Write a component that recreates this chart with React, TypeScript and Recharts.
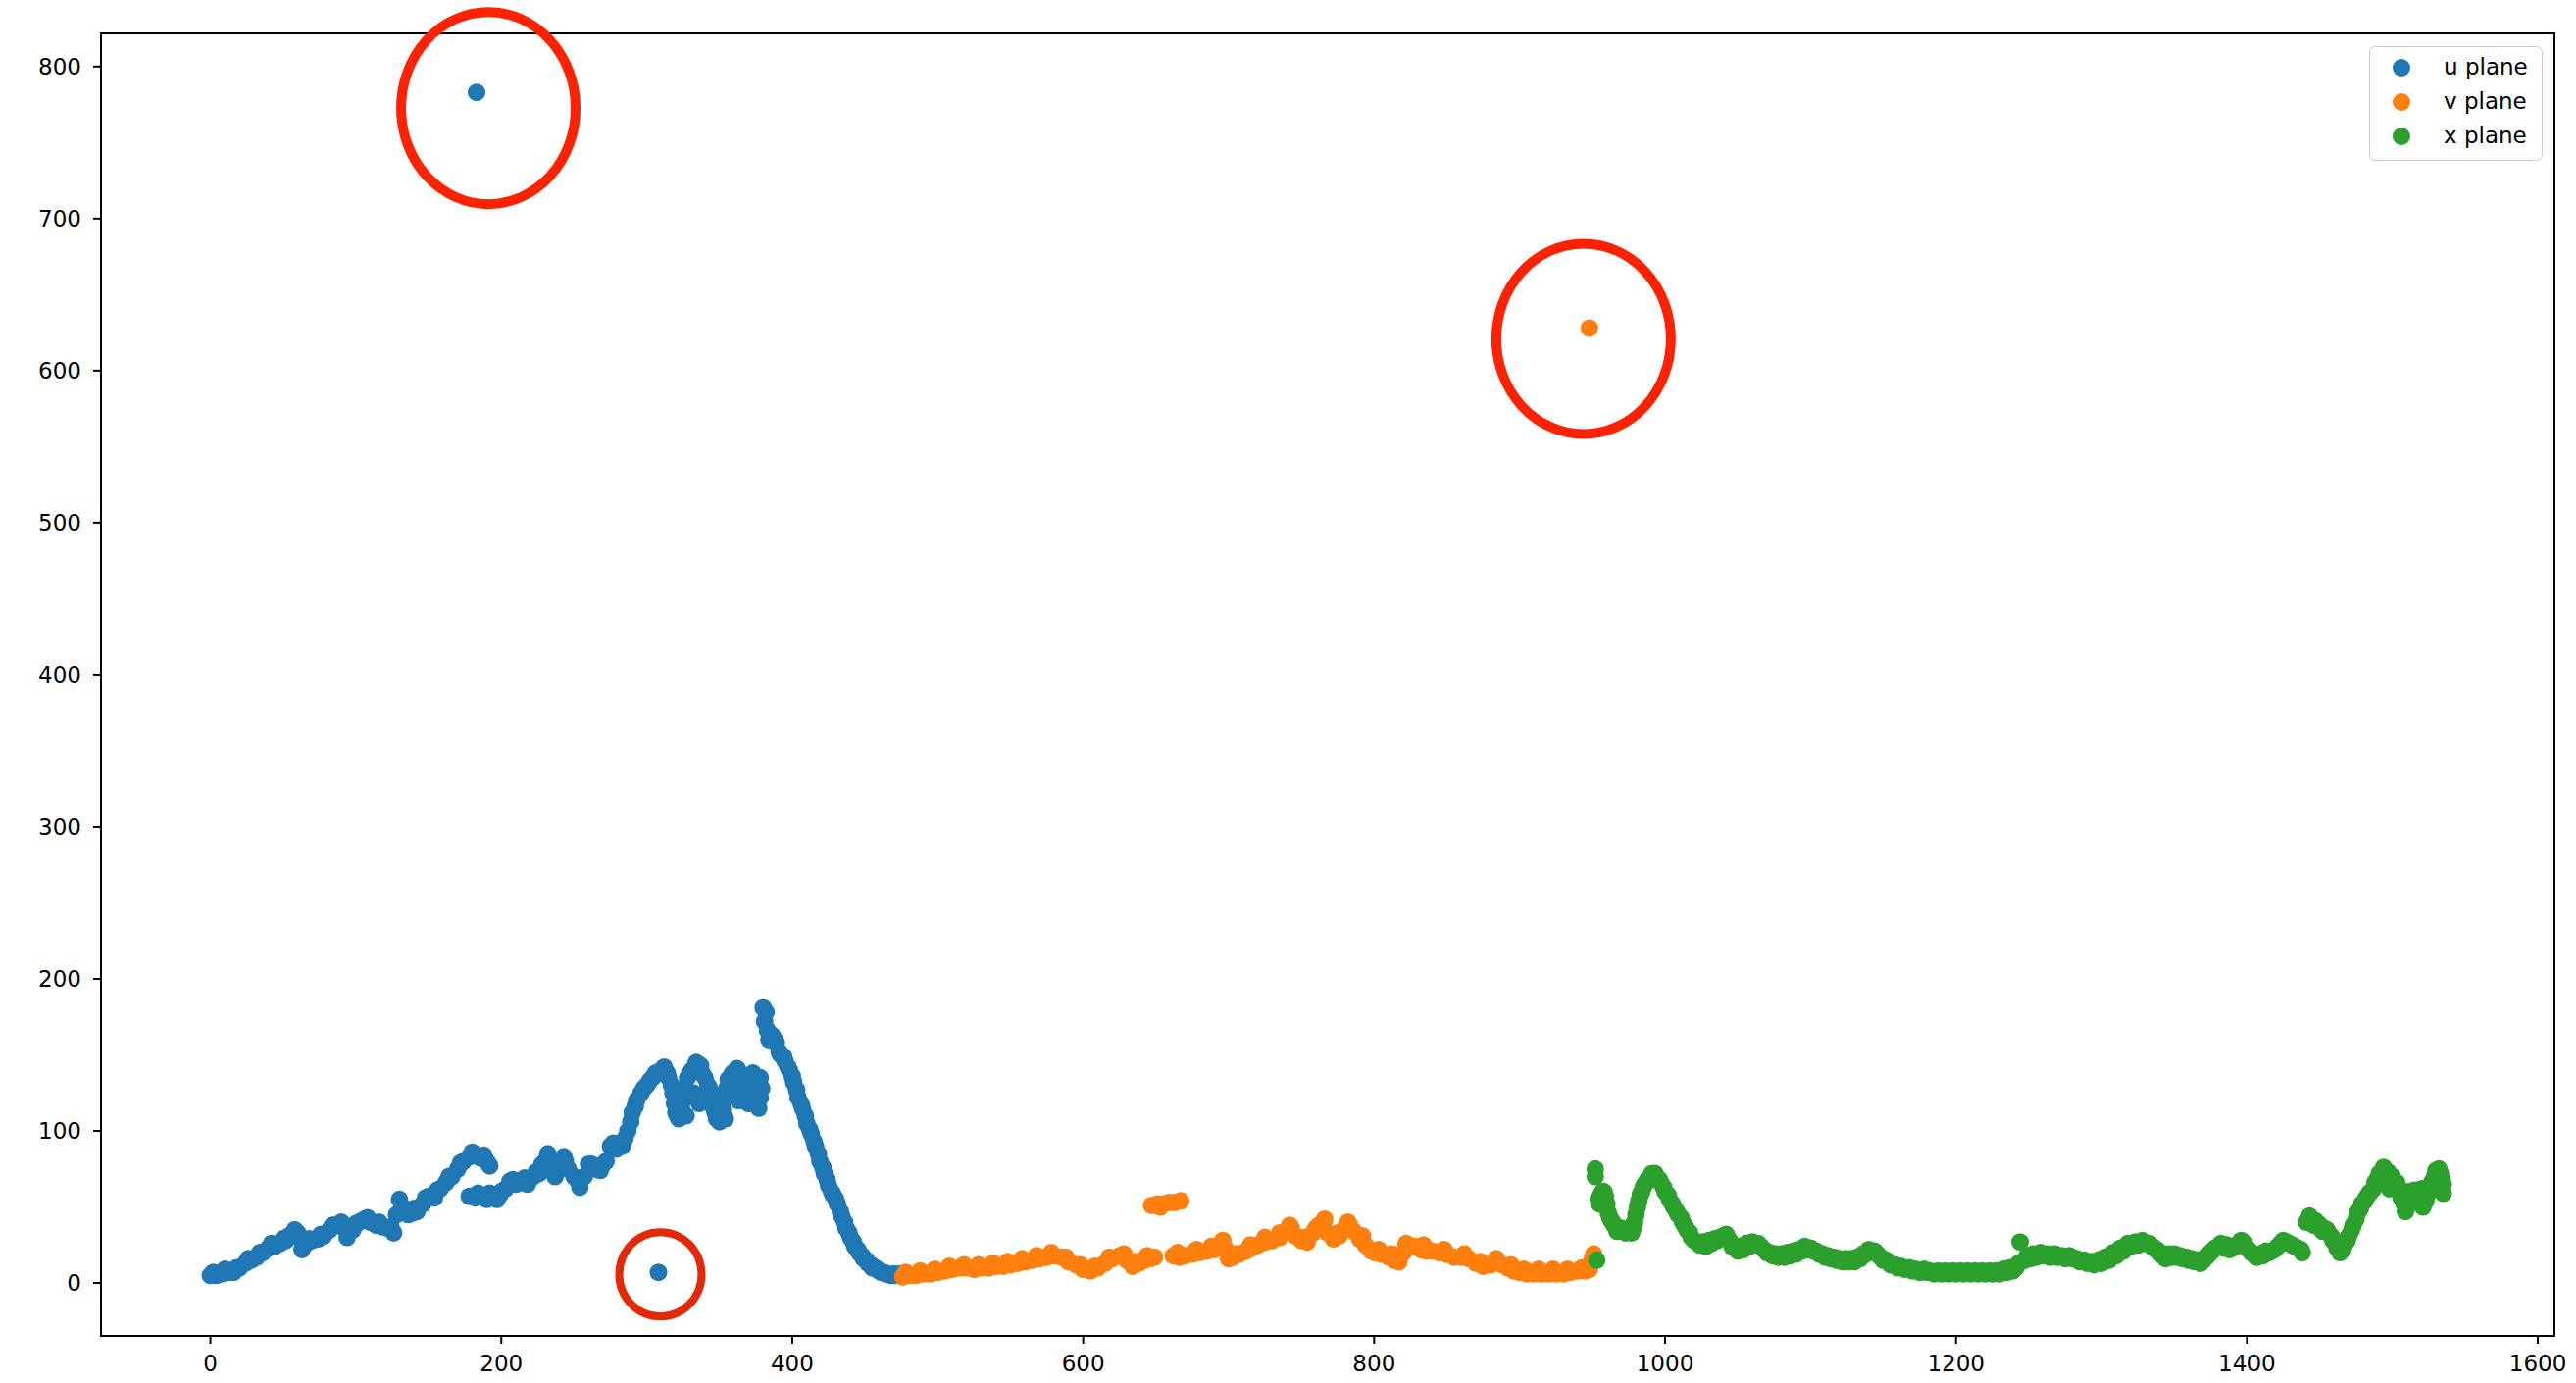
import React from 'react';
import { ScatterChart, Scatter, XAxis, YAxis, ReferenceArea, ReferenceDot, Legend } from 'recharts';

// ---- data (x, y) ----
const uPlane: number[][] = [
  [0, 5], [4, 5], [8, 6], [12, 7], [16, 7], [20, 10], [24, 13], [28, 15], [32, 17], [36, 20],
  [40, 23], [44, 24], [48, 26], [52, 28], [56, 31], [58, 35], [60, 33], [63, 22], [66, 26], [70, 28],
  [74, 29], [78, 31], [82, 35], [86, 38], [90, 40], [94, 30], [98, 35], [102, 40], [106, 42], [110, 40],
  [114, 38], [118, 37], [122, 36], [126, 33], [128, 45], [130, 55], [133, 48], [136, 45], [139, 46], [142, 47],
  [146, 52], [150, 57], [154, 56], [158, 62], [162, 66], [166, 70], [170, 75], [174, 80], [178, 83], [182, 84],
  [186, 82], [190, 80], [192, 77],
  [178, 57], [182, 56], [186, 57], [190, 55], [194, 58], [197, 55], [200, 60], [203, 62], [206, 67], [210, 65],
  [214, 66], [218, 65], [222, 70], [226, 72], [230, 80], [232, 85], [234, 78], [237, 70], [240, 80], [243, 83],
  [246, 75], [250, 70], [254, 63], [257, 70], [260, 78], [264, 75], [268, 74], [272, 80], [275, 90], [279, 88],
  [283, 90], [287, 100], [290, 112], [293, 120], [296, 125], [300, 130], [304, 135], [308, 138], [312, 142], [315, 135],
  [318, 125], [320, 112], [322, 108], [325, 120], [328, 135], [331, 140], [334, 145], [337, 143], [340, 135], [343, 128],
  [346, 115], [348, 108], [350, 106], [353, 120], [356, 134], [359, 138], [362, 141], [365, 132], [368, 123], [371, 135],
  [373, 138], [375, 125], [377, 115], [379, 128], [380, 181], [381, 172], [383, 166], [386, 163], [389, 158], [392, 150],
  [395, 146], [398, 140], [401, 132], [404, 122], [407, 115], [410, 105], [413, 98], [416, 90], [419, 80], [422, 72],
  [425, 64], [428, 58], [431, 52], [434, 44], [437, 36], [440, 30], [443, 24], [446, 20], [449, 16], [452, 13],
  [455, 10], [458, 9], [461, 7], [464, 6], [468, 5], [472, 5], [476, 5],
];
const uSpread: number[][] = [
  [2, 7], [10, 9], [18, 10], [26, 16], [34, 20], [42, 26], [50, 29], [54, 31], [61, 30], [68, 29],
  [76, 32], [84, 38], [92, 36], [100, 39], [108, 43], [116, 40], [124, 37], [132, 50], [140, 49], [148, 56],
  [156, 61], [164, 70], [172, 79], [180, 86], [188, 84], [184, 59], [192, 59], [199, 58], [208, 68], [216, 69],
  [224, 73], [228, 78], [236, 75], [244, 80], [252, 68], [262, 78], [270, 78], [277, 92], [285, 95], [289, 106],
  [292, 116], [298, 128], [302, 133], [306, 138], [310, 140], [314, 138], [317, 130], [319, 118], [321, 110], [324, 114],
  [326, 128], [330, 138], [333, 142], [336, 140], [338, 138], [342, 130], [345, 120], [347, 112], [349, 110], [352, 114],
  [355, 128], [358, 136], [361, 134], [364, 138], [367, 128], [370, 128], [372, 130], [374, 132], [376, 120], [378, 122],
  [323, 122], [327, 110], [332, 125], [336, 118], [341, 120], [345, 125], [350, 120], [354, 108], [358, 125], [363, 120],
  [367, 135], [370, 118], [374, 124], [378, 135], [382, 178], [384, 160], [388, 160], [391, 152], [394, 149], [397, 142],
  [400, 136], [403, 127], [406, 118], [409, 110], [412, 101], [415, 93], [418, 85], [421, 76], [424, 68], [427, 60],
  [430, 55], [433, 47], [436, 40], [439, 33], [442, 27], [445, 22], [448, 18], [451, 15], [454, 12], [457, 10],
  [460, 8], [463, 7], [466, 6], [470, 6], [474, 6],
];
const uOutliers: number[][] = [[183, 783], [308, 7]];

const vPlane: number[][] = [
  [476, 4], [480, 5], [485, 5], [490, 6], [495, 6], [500, 7], [505, 8], [510, 9], [515, 10], [520, 10],
  [525, 9], [530, 10], [535, 10], [540, 11], [545, 11], [550, 12], [555, 13], [560, 14], [565, 15], [570, 16],
  [575, 17], [580, 18], [585, 17], [590, 14], [595, 12], [600, 9], [605, 8], [610, 10], [615, 13], [620, 16],
  [625, 18], [630, 15], [634, 11], [638, 13], [642, 15], [646, 16], [649, 17],
  [647, 51], [651, 52], [655, 52], [659, 53], [663, 53], [667, 54],
  [662, 18], [666, 17], [670, 18], [675, 19], [680, 20], [685, 21], [690, 22], [695, 26], [698, 22], [700, 16],
  [703, 17], [707, 19], [712, 21], [716, 23], [720, 25], [725, 27], [730, 28], [735, 30], [740, 34], [743, 36],
  [746, 31], [750, 28], [754, 27], [758, 33], [762, 38], [765, 40], [768, 33], [772, 29], [776, 31], [780, 36],
  [783, 38], [786, 34], [790, 29], [794, 25], [798, 21], [801, 20], [805, 19], [810, 17], [814, 15], [817, 14],
  [820, 20], [824, 25], [828, 24], [832, 22], [836, 21], [840, 21], [845, 20], [850, 19], [855, 17], [860, 17],
  [865, 16], [870, 13], [875, 11], [880, 12], [885, 14], [888, 12], [892, 10], [896, 8], [900, 7], [905, 6],
  [910, 6], [915, 6], [920, 6], [925, 6], [930, 6], [935, 7], [940, 8], [945, 8], [948, 9], [951, 19],
];
const vSpread: number[][] = [
  [478, 7], [488, 8], [498, 9], [508, 11], [518, 12], [528, 12], [538, 13], [548, 14], [558, 16], [568, 18],
  [578, 20], [588, 17], [598, 12], [608, 11], [618, 17], [628, 19], [636, 14], [644, 18], [653, 50], [665, 20],
  [678, 22], [688, 24], [696, 28], [705, 19], [715, 25], [725, 30], [735, 33], [742, 38], [752, 30], [760, 36],
  [766, 42], [775, 33], [782, 40], [792, 31], [803, 22], [812, 19], [822, 26], [834, 25], [848, 22], [862, 19],
  [873, 14], [884, 16], [894, 12], [903, 9], [913, 9], [923, 9], [933, 9], [943, 10], [950, 16],
];
const vOutliers: number[][] = [[948, 628]];

const xPlane: number[][] = [
  [952, 75], [952, 70], [953, 15], [954, 55], [956, 58], [958, 60], [960, 52], [962, 43], [964, 40], [966, 37],
  [968, 35], [971, 34], [974, 35], [977, 33], [979, 40], [981, 50], [983, 58], [985, 63], [987, 66], [990, 70],
  [993, 72], [996, 68], [999, 63], [1002, 58], [1005, 52], [1008, 47], [1011, 43], [1014, 37], [1017, 33], [1020, 28],
  [1024, 25], [1028, 24], [1032, 26], [1036, 28], [1040, 31], [1043, 30], [1046, 24], [1050, 21], [1054, 22], [1058, 24],
  [1062, 26], [1066, 24], [1070, 20], [1074, 18], [1078, 17], [1082, 17], [1086, 18], [1090, 19], [1094, 21], [1098, 22],
  [1102, 21], [1106, 19], [1110, 17], [1114, 16], [1118, 15], [1122, 14], [1126, 14], [1130, 14], [1134, 16], [1138, 19],
  [1142, 21], [1146, 19], [1150, 15], [1155, 12], [1160, 10], [1165, 9], [1170, 8], [1175, 7], [1180, 7], [1185, 6],
  [1190, 6], [1195, 6], [1200, 6], [1205, 6], [1210, 6], [1215, 6], [1220, 6], [1225, 6], [1230, 6], [1235, 7],
  [1239, 8], [1243, 13], [1244, 27], [1247, 15], [1251, 16], [1255, 17], [1260, 18], [1265, 17], [1270, 17], [1275, 16],
  [1280, 16], [1285, 14], [1290, 13], [1295, 12], [1300, 13], [1305, 15], [1310, 18], [1315, 21], [1320, 24], [1325, 25],
  [1330, 26], [1335, 24], [1340, 20], [1344, 16], [1348, 17], [1352, 17], [1356, 16], [1360, 15], [1364, 14], [1368, 13],
  [1372, 17], [1376, 21], [1380, 24], [1384, 23], [1388, 22], [1392, 24], [1396, 28], [1399, 24], [1403, 20], [1407, 17],
  [1411, 18], [1415, 20], [1419, 22], [1423, 26], [1427, 27], [1431, 25], [1435, 23], [1438, 20],
  [1441, 40], [1444, 42], [1447, 41], [1450, 38], [1453, 36], [1456, 33], [1459, 28], [1462, 23], [1464, 20], [1467, 25],
  [1470, 31], [1473, 38], [1476, 46], [1479, 52], [1482, 56], [1485, 60], [1488, 66], [1491, 72], [1494, 76], [1497, 73],
  [1498, 62], [1500, 70], [1503, 66], [1506, 56], [1509, 47], [1510, 60], [1512, 52], [1515, 61], [1518, 56], [1520, 62],
  [1521, 50], [1524, 58], [1527, 66], [1530, 74], [1533, 72], [1535, 65], [1535, 59],
];
const xSpread: number[][] = [
  [955, 52], [957, 60], [959, 57], [961, 46], [963, 41], [965, 38], [967, 34], [970, 36], [973, 33], [976, 36],
  [978, 36], [980, 45], [982, 54], [984, 60], [986, 65], [988, 68], [991, 72], [994, 70], [997, 66], [1000, 60],
  [1003, 55], [1006, 50], [1009, 45], [1012, 40], [1015, 35], [1018, 30], [1022, 27], [1026, 27], [1030, 28], [1034, 29],
  [1038, 30], [1042, 32], [1045, 27], [1048, 23], [1052, 24], [1056, 26], [1060, 27], [1064, 26], [1068, 22], [1072, 20],
  [1076, 19], [1080, 19], [1084, 20], [1088, 21], [1092, 22], [1096, 24], [1100, 23], [1104, 21], [1108, 19], [1112, 18],
  [1116, 17], [1120, 16], [1124, 16], [1128, 16], [1132, 17], [1136, 19], [1140, 22], [1144, 21], [1148, 17], [1152, 15],
  [1158, 12], [1162, 11], [1168, 10], [1172, 9], [1178, 9], [1182, 8], [1188, 8], [1193, 8], [1198, 8], [1203, 8],
  [1208, 8], [1213, 8], [1218, 8], [1223, 8], [1228, 8], [1233, 9], [1237, 10], [1241, 10], [1249, 18], [1253, 19],
  [1258, 20], [1263, 19], [1268, 19], [1273, 18], [1278, 18], [1283, 16], [1288, 15], [1293, 14], [1298, 15], [1303, 17],
  [1308, 20], [1313, 23], [1318, 26], [1323, 27], [1328, 28], [1333, 26], [1338, 22], [1342, 18], [1346, 19], [1350, 19],
  [1354, 18], [1358, 17], [1362, 16], [1366, 15], [1370, 15], [1374, 19], [1378, 23], [1382, 26], [1386, 25], [1390, 23],
  [1394, 26], [1398, 27], [1401, 22], [1405, 19], [1409, 19], [1413, 21], [1417, 21], [1421, 24], [1425, 28], [1429, 26],
  [1433, 24], [1437, 22], [1443, 44], [1446, 38], [1449, 39], [1452, 34], [1455, 35], [1458, 31], [1461, 26], [1463, 22],
  [1466, 22], [1469, 28], [1472, 35], [1475, 42], [1478, 49], [1481, 54], [1484, 59], [1487, 62], [1490, 69], [1493, 73],
  [1496, 70], [1499, 66], [1502, 63], [1505, 60], [1508, 52], [1511, 55], [1514, 57], [1517, 60], [1520, 55], [1523, 54],
  [1526, 62], [1529, 70], [1532, 75], [1534, 68],
];

const xTicks = [0, 200, 400, 600, 800, 1000, 1200, 1400, 1600];
const yTicks = [0, 100, 200, 300, 400, 500, 600, 700, 800];
const xDomain = [-75.2, 1611.4];
const yDomain = [-34.8, 821.8];

const seriesInfo = [
  { name: 'u plane', color: '#1f77b4' },
  { name: 'v plane', color: '#ff7f0e' },
  { name: 'x plane', color: '#2ca02c' },
];

const toPoints = (arr: number[][]) => arr.map(([x, y]) => ({ x, y }));

const FONT = 'DejaVu Sans, Verdana, sans-serif';

const makeDot = (color: string) => (props: any) => (
  <circle cx={props.cx} cy={props.cy} r={9} fill={color} />
);

const makeRing = (dx: number, dy: number, rx: number, ry: number, sw: number, color: string) => (props: any) => (
  <ellipse cx={props.cx + dx} cy={props.cy + dy} rx={rx} ry={ry} fill="none" stroke={color} strokeWidth={sw} />
);

const LegendBox = () => (
  <div
    style={{
      position: 'relative',
      width: 177,
      height: 117,
      boxSizing: 'border-box',
      border: '1.5px solid #cccccc',
      borderRadius: 6,
      background: 'rgba(255,255,255,0.8)',
      paddingTop: 3,
      fontFamily: FONT,
      fontSize: 23,
      color: '#000',
    }}
  >
    {seriesInfo.map((s) => (
      <div key={s.name} style={{ display: 'flex', alignItems: 'center', height: 35 }}>
        <span
          style={{
            display: 'inline-block',
            marginLeft: 23,
            width: 18,
            height: 18,
            borderRadius: 9,
            background: s.color,
          }}
        />
        <span style={{ marginLeft: 34, lineHeight: '35px', whiteSpace: 'nowrap' }}>{s.name}</span>
      </div>
    ))}
  </div>
);

export default function App() {
  return (
    <div style={{ position: 'absolute', left: 0, top: 0, width: 2627, height: 1410, background: '#fff' }}>
      <ScatterChart width={2627} height={1410} margin={{ top: 34, right: 22, bottom: 0, left: 0 }}>
        <XAxis
          type="number"
          dataKey="x"
          domain={xDomain}
          ticks={xTicks}
          interval={0}
          allowDataOverflow
          height={48}
          axisLine={false}
          tickSize={8}
          tickMargin={12}
          tickLine={{ stroke: '#000', strokeWidth: 2 }}
          tick={{ fill: '#000', fontSize: 23, fontFamily: FONT }}
        />
        <YAxis
          type="number"
          dataKey="y"
          domain={yDomain}
          ticks={yTicks}
          interval={0}
          allowDataOverflow
          width={103}
          axisLine={false}
          tickSize={8}
          tickMargin={12}
          tickLine={{ stroke: '#000', strokeWidth: 2 }}
          tick={{ fill: '#000', fontSize: 23, fontFamily: FONT }}
        />
        <ReferenceArea
          x1={xDomain[0]}
          x2={xDomain[1]}
          y1={yDomain[0]}
          y2={yDomain[1]}
          fill="none"
          fillOpacity={0}
          stroke="#000"
          strokeWidth={2}
          ifOverflow="visible"
        />
        <Scatter
          name="u plane"
          data={toPoints([...uPlane, ...uSpread, ...uOutliers])}
          fill={seriesInfo[0].color}
          shape={makeDot(seriesInfo[0].color)}
          isAnimationActive={false}
        />
        <Scatter
          name="v plane"
          data={toPoints([...vPlane, ...vSpread, ...vOutliers])}
          fill={seriesInfo[1].color}
          shape={makeDot(seriesInfo[1].color)}
          isAnimationActive={false}
        />
        <Scatter
          name="x plane"
          data={toPoints([...xPlane, ...xSpread])}
          fill={seriesInfo[2].color}
          shape={makeDot(seriesInfo[2].color)}
          isAnimationActive={false}
        />
        <ReferenceDot
          x={uOutliers[0][0]}
          y={uOutliers[0][1]}
          ifOverflow="visible"
          shape={makeRing(12, 16, 89, 98, 10, '#ff2200')}
        />
        <ReferenceDot
          x={vOutliers[0][0]}
          y={vOutliers[0][1]}
          ifOverflow="visible"
          shape={makeRing(-6, 11, 89, 97, 10, '#ff2200')}
        />
        <ReferenceDot
          x={uOutliers[1][0]}
          y={uOutliers[1][1]}
          ifOverflow="visible"
          shape={makeRing(2, 2, 42, 43, 8, '#e22a08')}
        />
        <Legend
          layout="horizontal"
          verticalAlign="middle"
          align="center"
          content={LegendBox}
          wrapperStyle={{ left: 2416, top: 47, width: 177, height: 117 }}
        />
      </ScatterChart>
    </div>
  );
}
